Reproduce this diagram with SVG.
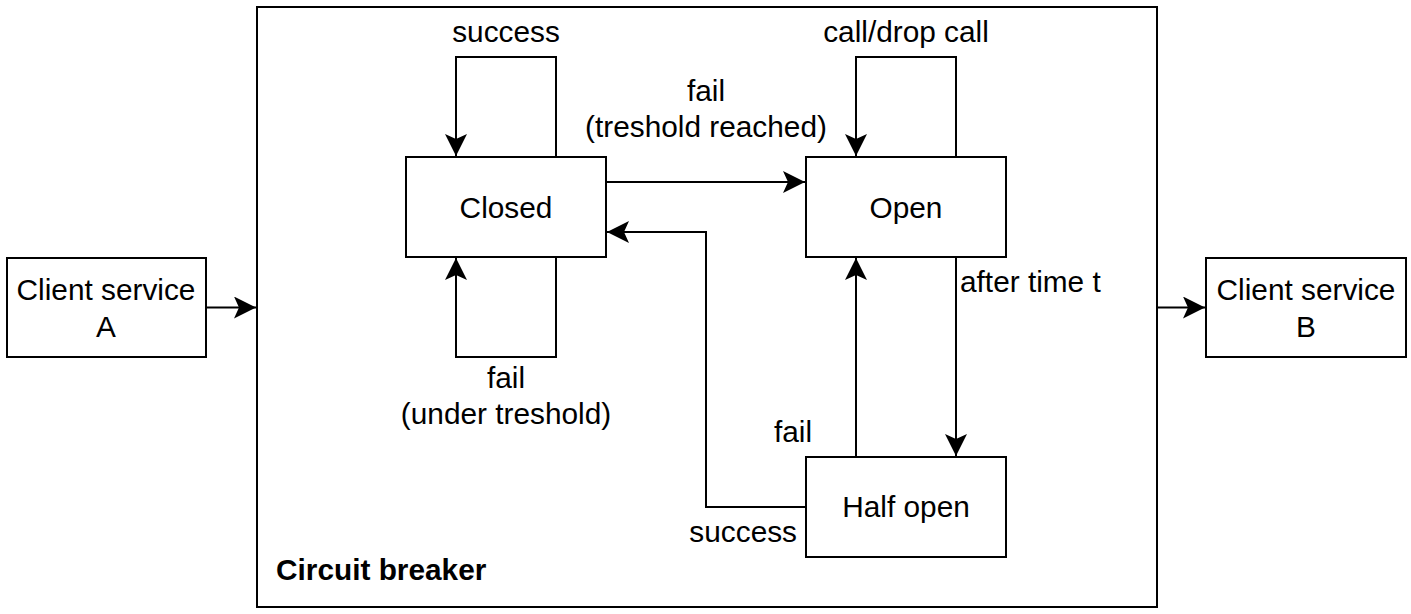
<svg xmlns="http://www.w3.org/2000/svg" width="1411" height="614" viewBox="0 0 1411 614">
  <style>
    .box { fill: #ffffff; stroke: #000000; stroke-width: 2; }
    .edge { fill: none; stroke: #000000; stroke-width: 2; marker-end: url(#arrow); }
    text { font-family: "Liberation Sans", Arial, sans-serif; font-size: 29.8px; fill: #000000; }
    .c { text-anchor: middle; }
    .b { font-weight: bold; }
  </style>
  <defs>
    <marker id="arrow" markerUnits="userSpaceOnUse" markerWidth="24" markerHeight="24" refX="22" refY="11" orient="auto">
      <path d="M0,0 L22,11 L0,22 L5,11 Z" fill="#000000"/>
    </marker>
  </defs>
  <rect width="1411" height="614" fill="#ffffff"/>

  <g id="circuit-breaker">
    <rect class="box" x="257" y="7" width="900" height="600"/>
    <text class="b" x="276" y="580">Circuit breaker</text>
  </g>

  <g id="client-a">
    <rect class="box" x="7" y="258" width="199" height="99"/>
    <text class="c" x="106" y="300">Client service</text>
    <text class="c" x="106" y="337">A</text>
  </g>

  <g id="client-b">
    <rect class="box" x="1206" y="258" width="200" height="99"/>
    <text class="c" x="1306" y="300">Client service</text>
    <text class="c" x="1306" y="337">B</text>
  </g>

  <g id="closed">
    <rect class="box" x="406" y="157" width="200" height="100"/>
    <text class="c" x="506" y="218">Closed</text>
  </g>

  <g id="open">
    <rect class="box" x="806" y="157" width="200" height="100"/>
    <text class="c" x="906" y="218">Open</text>
  </g>

  <g id="half-open">
    <rect class="box" x="806" y="457" width="200" height="100"/>
    <text class="c" x="906" y="517">Half open</text>
  </g>

  <g id="connectors">
    <path class="edge" d="M206,307.5 H256"/>
    <path class="edge" d="M1157,307.5 H1205"/>
    <path class="edge" d="M556,157 V57 H456 V156"/>
    <path class="edge" d="M556,257 V357 H456 V258"/>
    <path class="edge" d="M606,182 H805"/>
    <path class="edge" d="M806,507 H706 V232 H607"/>
    <path class="edge" d="M956,157 V57 H856 V156"/>
    <path class="edge" d="M856,457 V258"/>
    <path class="edge" d="M956,257 V456"/>
  </g>

  <g id="labels">
    <text class="c" x="506" y="42">success</text>
    <text class="c" x="906" y="42">call/drop call</text>
    <text class="c" x="706" y="101">fail</text>
    <text class="c" x="706" y="137">(treshold reached)</text>
    <text x="960" y="292">after time t</text>
    <text class="c" x="506" y="388">fail</text>
    <text class="c" x="506" y="424">(under treshold)</text>
    <text class="c" x="793" y="442">fail</text>
    <text x="797" y="542" text-anchor="end">success</text>
  </g>
</svg>
